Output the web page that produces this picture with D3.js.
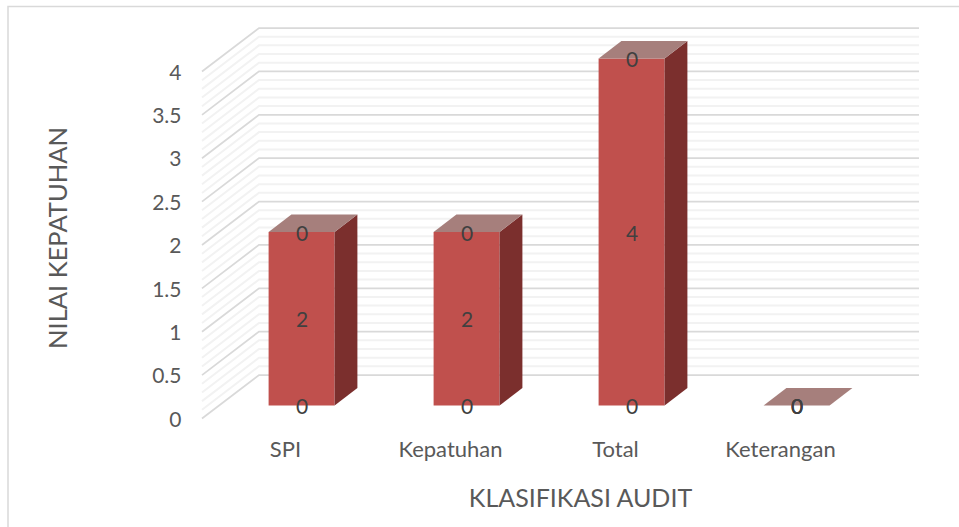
<!DOCTYPE html>
<html>
<head>
<meta charset="utf-8">
<script src="https://cdn.jsdelivr.net/npm/d3@7"></script>
<style>
  html, body { margin: 0; padding: 0; background: #fff; }
  svg { display: block; font-family: Lato, "Open Sans", sans-serif; }
</style>
</head>
<body>
<div id="chart"></div>
<script>
// Data ------------------------------------------------------------------------
const categories = ["SPI", "Kepatuhan", "Total", "Keterangan"];
const seriesBottom = [0, 0, 0, 0];
const seriesNilai = [2, 2, 4, 0];
const seriesTop = [0, 0, 0, 0];
const yTicks = [0, 0.5, 1, 1.5, 2, 2.5, 3, 3.5, 4];
const yTitle = "NILAI KEPATUHAN";
const xTitle = "KLASIFIKASI AUDIT";

// Canvas ----------------------------------------------------------------------
const canvasWidth = 959;
const canvasHeight = 527;

const svg = d3.select("#chart")
  .append("svg")
  .attr("width", canvasWidth)
  .attr("height", canvasHeight);

// Chart frame, only top and left edges are inside the crop
svg.append("path")
  .attr("d", "M8,527V6.5H959")
  .attr("fill", "none")
  .attr("stroke", "#d9d9d9")
  .attr("stroke-width", 1.5);

// Scales ----------------------------------------------------------------------
const xScale = d3.scaleBand()
  .domain(categories)
  .range([202, 862])
  .paddingInner(0)
  .paddingOuter(0);
const yScale = d3.scaleLinear()
  .domain([0, 4])
  .range([418.5, 71.5]);

// Oblique projection: depth 0 is the front of the floor, depth 1 the back wall
const depthX = d3.scaleLinear().domain([0, 1]).range([0, 57]);
const depthY = d3.scaleLinear().domain([0, 1]).range([0, -43.5]);
const barFront = 0.3;
const barBack = 0.7;
const barShare = 0.4;

const project = (cat, offset, value, depth) => [
  xScale(cat) + offset + depthX(depth),
  yScale(value) + depthY(depth)
];

// Walls and gridlines ---------------------------------------------------------
const gridGroup = svg.append("g").attr("fill", "none");
const backLeft = xScale.range()[0] + depthX(1);
const backRight = xScale.range()[1] + depthX(1);

const gridValues = yScale.ticks(40);
const isMajor = v => yTicks.includes(+v.toFixed(1));

// Minor lines first so the darker major lines sit on top
gridValues.slice().sort((a, b) => isMajor(a) - isMajor(b)).forEach(function(v) {
  gridGroup.append("polyline")
    .attr("points", [
      [xScale.range()[0], yScale(v)],
      [backLeft, yScale(v) + depthY(1)],
      [backRight, yScale(v) + depthY(1)]
    ].join(" "))
    .attr("stroke", isMajor(v) ? "#d9d9d9" : "#f2f2f2")
    .attr("stroke-width", isMajor(v) ? 1.75 : 2);
});

// Bars ------------------------------------------------------------------------
const barWidth = xScale.bandwidth() * barShare;
const barOffset = (xScale.bandwidth() - barWidth) / 2;
const rows = categories.map((c, i) => ({
  cat: c,
  bottom: seriesBottom[i],
  value: seriesNilai[i],
  top: seriesTop[i]
}));

const poly = pts => pts.map(p => p.join(",")).join(" ");

const bars = svg.append("g").selectAll("g")
  .data(rows)
  .join("g");

// Front face
bars.filter(d => d.value > 0).append("polygon")
  .attr("points", d => poly([
    project(d.cat, barOffset, 0, barFront),
    project(d.cat, barOffset + barWidth, 0, barFront),
    project(d.cat, barOffset + barWidth, d.value, barFront),
    project(d.cat, barOffset, d.value, barFront)
  ]))
  .attr("fill", "#c0504d");

// Side face
bars.filter(d => d.value > 0).append("polygon")
  .attr("points", d => poly([
    project(d.cat, barOffset + barWidth, 0, barFront),
    project(d.cat, barOffset + barWidth, 0, barBack),
    project(d.cat, barOffset + barWidth, d.value, barBack),
    project(d.cat, barOffset + barWidth, d.value, barFront)
  ]))
  .attr("fill", "#7b2f2d");

// Top face
bars.append("polygon")
  .attr("points", d => poly([
    project(d.cat, barOffset, d.value, barFront),
    project(d.cat, barOffset + barWidth, d.value, barFront),
    project(d.cat, barOffset + barWidth, d.value, barBack),
    project(d.cat, barOffset, d.value, barBack)
  ]))
  .attr("fill", "#a67f7c");

// Data labels -----------------------------------------------------------------
const labelFontSize = 21;
const labelX = d => project(d.cat, barOffset + barWidth / 2, 0, barFront)[0] + 0.5;
const labelBaseY = v => yScale(v) + depthY(barFront) + 1;

const addLabels = function(text, value) {
  bars.append("text")
    .text(text)
    .attr("x", labelX)
    .attr("y", d => labelBaseY(value(d)))
    .attr("dy", "0.36em")
    .style("text-anchor", "middle")
    .style("font-size", labelFontSize)
    .style("fill", "#404040");
};
addLabels(d => d.bottom, d => 0);
addLabels(d => d.value, d => d.value / 2);
addLabels(d => d.top, d => d.value);

// Axes ------------------------------------------------------------------------
const yAxis = svg.append("g")
  .attr("transform", "translate(190, 1)")
  .call(d3.axisLeft(yScale).tickValues(yTicks).tickSize(0).tickPadding(8.5).tickFormat(d => d));
yAxis.select(".domain").remove();
yAxis.selectAll("text")
  .style("font-family", "Lato, sans-serif")
  .style("font-size", 21)
  .style("fill", "#595959");

const xAxis = svg.append("g")
  .attr("transform", "translate(1, 441)")
  .call(d3.axisBottom(xScale).tickSize(0).tickPadding(0));
xAxis.select(".domain").remove();
xAxis.selectAll("text")
  .style("font-family", "Lato, sans-serif")
  .style("font-size", 22)
  .style("fill", "#595959");

svg.append("text")
  .text(yTitle)
  .attr("transform", "translate(67, 238) rotate(-90)")
  .style("text-anchor", "middle")
  .style("font-size", 25.5)
  .style("fill", "#595959");

svg.append("text")
  .text(xTitle)
  .attr("x", 580.5)
  .attr("y", 507)
  .style("text-anchor", "middle")
  .style("font-size", 25)
  .style("fill", "#595959");
</script>
</body>
</html>
